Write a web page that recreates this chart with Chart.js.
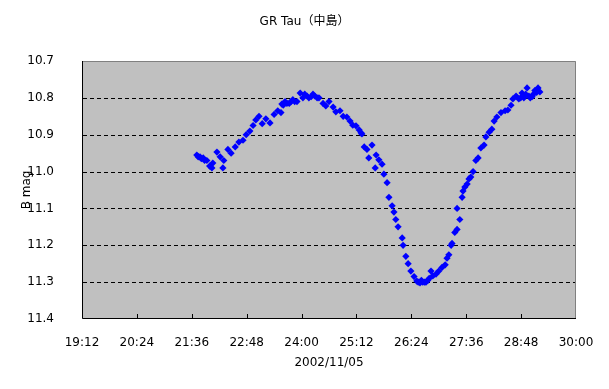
<!DOCTYPE html>
<html>
<head>
<meta charset="utf-8">
<script src="https://cdn.jsdelivr.net/npm/chart.js@4.4.1/dist/chart.umd.min.js"></script>
<style>
  html, body { margin: 0; padding: 0; background: #fff; }
  canvas { display: block; }
</style>
</head>
<body>
<canvas id="lightcurve" width="609" height="389"></canvas>
<script>
// Observation times (hours on 2002/11/05, past 24 = next morning) and B magnitudes
const times = [
    21.71, 21.74, 21.78, 21.81, 21.85, 21.88, 21.93, 21.99, 22.04, 22.06,
    22.15, 22.22, 22.28, 22.30, 22.39, 22.46, 22.55, 22.63, 22.72, 22.79,
    22.87, 22.94, 23.00, 23.07, 23.14, 23.22, 23.31, 23.40, 23.48, 23.55,
    23.57, 23.60, 23.64, 23.68, 23.73, 23.77, 23.81, 23.85, 23.90, 23.97,
    24.03, 24.07, 24.12, 24.16, 24.21, 24.25, 24.29, 24.34, 24.38, 24.47,
    24.53, 24.60, 24.69, 24.75, 24.84, 24.91, 24.99, 25.06, 25.12, 25.19,
    25.26, 25.30, 25.32, 25.37, 25.43, 25.47, 25.54, 25.61, 25.63, 25.69,
    25.76, 25.80, 25.87, 25.91, 25.98, 26.02, 26.06, 26.11, 26.20, 26.22,
    26.28, 26.33, 26.39, 26.46, 26.52, 26.55, 26.59, 26.62, 26.65, 26.69,
    26.72, 26.76, 26.79, 26.83, 26.87, 26.94, 27.00, 27.07, 27.14, 27.18,
    27.22, 27.27, 27.29, 27.35, 27.40, 27.40, 27.46, 27.51, 27.53, 27.57,
    27.62, 27.66, 27.70, 27.75, 27.81, 27.86, 27.92, 27.99, 28.03, 28.10,
    28.16, 28.21, 28.27, 28.36, 28.45, 28.51, 28.58, 28.62, 28.69, 28.75,
    28.79, 28.82, 28.86, 28.90, 28.93, 28.97, 29.00, 29.04, 29.07, 29.10,
    29.14, 29.17, 29.21
];
const bmag = [
    10.955, 10.960, 10.960, 10.965, 10.963, 10.970, 10.970, 10.985, 10.990, 10.977,
    10.947, 10.960, 10.990, 10.970, 10.940, 10.950, 10.933, 10.920, 10.915, 10.900,
    10.890, 10.875, 10.860, 10.850, 10.870, 10.857, 10.868, 10.845, 10.835, 10.840,
    10.817, 10.820, 10.810, 10.815, 10.815, 10.810, 10.805, 10.810, 10.810, 10.787,
    10.800, 10.790, 10.795, 10.800, 10.797, 10.790, 10.795, 10.800, 10.800, 10.815,
    10.822, 10.810, 10.825, 10.838, 10.835, 10.850, 10.852, 10.863, 10.874, 10.876,
    10.887, 10.895, 10.898, 10.933, 10.940, 10.963, 10.928, 10.990, 10.955, 10.968,
    10.980, 11.007, 11.030, 11.070, 11.093, 11.110, 11.130, 11.150, 11.180, 11.200,
    11.230, 11.250, 11.270, 11.285, 11.297, 11.300, 11.302, 11.295, 11.300, 11.300,
    11.300, 11.295, 11.290, 11.270, 11.283, 11.278, 11.270, 11.260, 11.253, 11.235,
    11.226, 11.200, 11.195, 11.165, 11.157, 11.100, 11.130, 11.070, 11.053, 11.042,
    11.034, 11.020, 11.015, 11.000, 10.970, 10.963, 10.936, 10.928, 10.906, 10.893,
    10.885, 10.863, 10.852, 10.840, 10.835, 10.833, 10.820, 10.803, 10.795, 10.803,
    10.800, 10.787, 10.800, 10.790, 10.773, 10.795, 10.800, 10.797, 10.790, 10.780,
    10.785, 10.773, 10.784
];

// Axis ticks: x in minutes after 0:00
const xTickMinutes = [1152, 1224, 1296, 1368, 1440, 1512, 1584, 1656, 1728, 1800];
const xTickLabels = ["19:12", "20:24", "21:36", "22:48", "24:00", "25:12", "26:24", "27:36", "28:48", "30:00"];
const yTicks = [10.7, 10.8, 10.9, 11.0, 11.1, 11.2, 11.3, 11.4];

const chartTitle = "GR Tau（中島）";
const FONT = "'DejaVu Sans', 'Noto Sans CJK JP', sans-serif";

// grey plot area, dashed grid, frame, inward x ticks and the title
const plotFrame = {
    id: "plotFrame",
    beforeDraw(chart) {
        const { ctx, chartArea: a } = chart;
        ctx.save();
        ctx.fillStyle = "#ffffff";
        ctx.fillRect(0, 0, chart.width, chart.height);
        ctx.fillStyle = "#c0c0c0";
        ctx.fillRect(a.left, a.top, a.right - a.left, a.bottom - a.top);
        ctx.restore();
    },
    beforeDatasetsDraw(chart) {
        const { ctx, chartArea: a } = chart;
        const ys = chart.scales.y;
        ctx.save();
        ctx.strokeStyle = "#000000";
        ctx.lineWidth = 1;
        ctx.setLineDash([4, 3]);
        ctx.beginPath();
        yTicks.slice(1, -1).forEach(v => {
            const py = Math.round(ys.getPixelForValue(v)) + 0.5;
            ctx.moveTo(a.left + 1, py);
            ctx.lineTo(a.right - 1, py);
        });
        ctx.stroke();
        ctx.restore();
    },
    afterDraw(chart) {
        const { ctx, chartArea: a } = chart;
        const xs = chart.scales.x;
        ctx.save();
        ctx.lineWidth = 1;
        ctx.strokeStyle = "#808080";
        ctx.beginPath();
        ctx.moveTo(a.left, a.top + 0.5);
        ctx.lineTo(a.right - 0.5, a.top + 0.5);
        ctx.lineTo(a.right - 0.5, a.bottom);
        ctx.stroke();
        ctx.strokeStyle = "#000000";
        ctx.beginPath();
        ctx.moveTo(a.left + 0.5, a.top);
        ctx.lineTo(a.left + 0.5, a.bottom - 0.5);
        ctx.lineTo(a.right, a.bottom - 0.5);
        ctx.stroke();
        ctx.beginPath();
        xTickMinutes.slice(1, -1).forEach(m => {
            const px = Math.round(xs.getPixelForValue(m)) + 0.5;
            ctx.moveTo(px, a.bottom);
            ctx.lineTo(px, a.bottom - 5);
        });
        ctx.stroke();
        ctx.fillStyle = "#000000";
        ctx.font = "12px " + FONT;
        ctx.textAlign = "center";
        ctx.textBaseline = "middle";
        ctx.fillText(chartTitle, chart.width / 2, 22);
        ctx.restore();
    }
};

document.addEventListener("DOMContentLoaded", () => {
    const ctx = document.getElementById("lightcurve").getContext("2d");
    new Chart(ctx, {
        type: "scatter",
        data: {
            datasets: [{
                label: "B",
                data: times.map((t, i) => ({ x: t * 60, y: bmag[i] })),
                pointStyle: "rectRot",
                pointRadius: 3.6,
                pointBorderWidth: 0,
                backgroundColor: "#0000ff",
                borderColor: "#0000ff"
            }]
        },
        options: {
            responsive: false,
            animation: false,
            devicePixelRatio: 1,
            layout: { padding: { top: 61, right: 33, left: 0, bottom: 0 } },
            plugins: {
                legend: { display: false },
                title: { display: false },
                tooltip: { enabled: false }
            },
            scales: {
                x: {
                    type: "linear",
                    min: 1152,
                    max: 1800,
                    afterBuildTicks: scale => { scale.ticks = xTickMinutes.map(v => ({ value: v })); },
                    afterFit: scale => { scale.height = 70; },
                    grid: { display: false },
                    border: { display: false },
                    ticks: {
                        padding: 9,
                        maxRotation: 0,
                        autoSkip: false,
                        color: "#000",
                        font: { family: FONT, size: 12 },
                        callback: v => xTickLabels[xTickMinutes.indexOf(v)]
                    },
                    title: {
                        display: true,
                        text: "2002/11/05",
                        color: "#000",
                        font: { family: FONT, size: 12 },
                        padding: { top: 0, bottom: 19 }
                    }
                },
                y: {
                    type: "linear",
                    reverse: true,
                    min: 10.7,
                    max: 11.4,
                    afterBuildTicks: scale => { scale.ticks = yTicks.map(v => ({ value: v })); },
                    afterFit: scale => { scale.width = 82; },
                    grid: { display: false },
                    border: { display: false },
                    ticks: {
                        padding: 20,
                        autoSkip: false,
                        color: "#000",
                        font: { family: FONT, size: 12 },
                        callback: v => v.toFixed(1)
                    },
                    title: {
                        display: true,
                        text: "B mag",
                        color: "#000",
                        font: { family: FONT, size: 12 },
                        padding: { top: 20, bottom: 0 }
                    }
                }
            }
        },
        plugins: [plotFrame]
    });
});
</script>
</body>
</html>
